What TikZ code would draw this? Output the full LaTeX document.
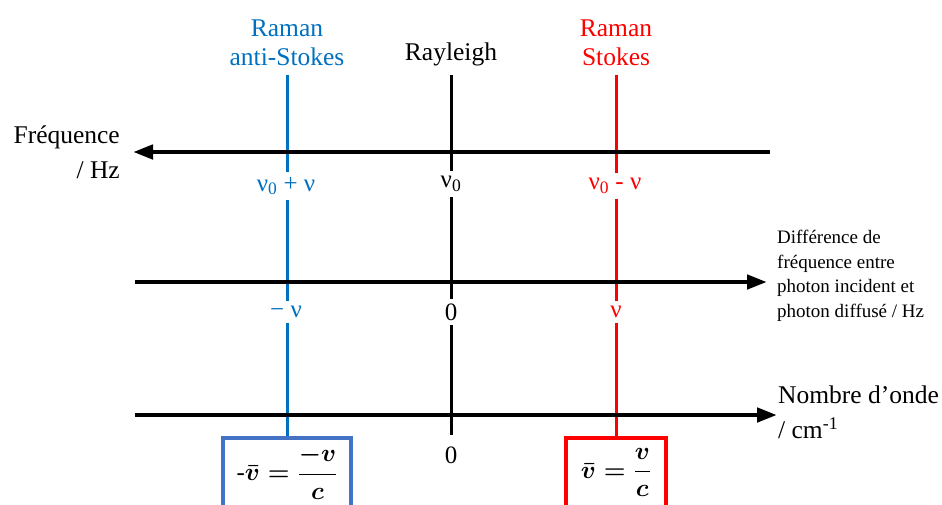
\documentclass[tikz,border=0pt]{standalone}
\usepackage{fontspec}
\setmainfont{Liberation Serif}
\usepackage{amsmath}
\usetikzlibrary{arrows.meta}
\definecolor{rblue}{RGB}{0,112,192}
\definecolor{bxblue}{RGB}{68,114,196}

\begin{document}
\begin{tikzpicture}[x=1pt, y=-1pt,
  hd/.style={anchor=south, inner sep=0pt, outer sep=9pt, align=center, font=\fontsize{25.5}{29}\selectfont},
  lb/.style={fill=white, inner xsep=2pt, inner ysep=5pt, font=\fontsize{25}{28}\selectfont},
  bx/.style={draw, line width=3.5pt, anchor=north, minimum height=70pt, text=black, font=\Huge\boldmath},
  ax/.style={line width=4.5pt, -{Triangle[length=20pt,width=14pt]}},
  vl/.style={line width=3pt}]
\useasboundingbox (0,0) rectangle (942,504);
% titles of the three lines
\node[hd, text=rblue] (as) at (287,75) {Raman\\anti-Stokes};
\node[hd] (ray) at (451,75) {Rayleigh};
\node[hd, text=red] (st) at (616,75) {Raman\\Stokes};
% wavenumber boxes
\node[bx, draw=bxblue, minimum width=128pt] (asb) at (287,436) {-$\bar{v} = \dfrac{-v}{c}$};
\node[bx, draw=red, minimum width=100pt] (stb) at (616,436) {$\bar{v} = \dfrac{v}{c}$};
\node[font=\fontsize{25}{28}\selectfont, outer sep=8pt] (z) at (451,455) {0};
\foreach \a/\b/\c in {as/asb/rblue, ray/z/black, st/stb/red}{
  \draw[vl, \c] (\a) -- (\b);}
% axes
\coordinate (fa) at (770,152);
\coordinate (fb) at (133,152);
\coordinate (da) at (135,282);
\coordinate (db) at (767,282);
\coordinate (na) at (135,415);
\coordinate (nb) at (777,415);
\foreach \a/\b in {fa/fb, da/db, na/nb}{
  \draw[ax] (\a) -- (\b);}
% values on the axes
\node[lb, text=rblue] (f1) at (286,186) {ν\textsubscript{0} + ν};
\node[lb] (f2) at (451,184) {ν\textsubscript{0}};
\node[lb, text=red] (f3) at (615,186) {ν\textsubscript{0} - ν};
\node[lb, text=rblue] (d1) at (286,312) {− ν};
\node[lb] (d2) at (451,312) {0};
\node[lb, text=red] (d3) at (616,312) {ν};
% axis names
\node[align=right, anchor=east, inner sep=0pt, font=\fontsize{25.5}{35}\selectfont] (freq) at (120,152) {Fréquence\\/ Hz};
\node[align=left, anchor=west, inner sep=0pt, font=\fontsize{19}{24.5}\selectfont] (diff) at (777,276) {Différence de\\fréquence entre\\photon incident et\\photon diffusé / Hz};
\node[align=left, anchor=west, inner sep=0pt, font=\fontsize{25.5}{35}\selectfont] (nomb) at (778,412) {Nombre d’onde\\/ cm\textsuperscript{-1}};
\end{tikzpicture}
\end{document}
